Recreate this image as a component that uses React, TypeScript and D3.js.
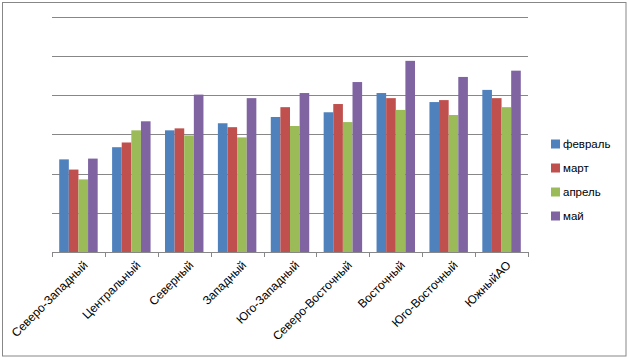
import * as d3 from "d3";
import { useEffect, useRef } from "react";

const categories = [
  "Северо-Западный",
  "Центральный",
  "Северный",
  "Западный",
  "Юго-Западный",
  "Северо-Восточный",
  "Восточный",
  "Юго-Восточный",
  "ЮжныйАО",
];

const seriesNames = ["февраль", "март", "апрель", "май"];
const seriesColors = ["#4F81BD", "#C0504D", "#9BBB59", "#8064A2"];

const february = [23.6, 26.7, 31.0, 32.8, 34.4, 35.6, 40.5, 38.2, 41.3];
const march = [21.0, 27.9, 31.5, 31.8, 36.9, 37.7, 39.2, 38.7, 39.2];
const april = [18.5, 31.0, 29.7, 29.2, 32.1, 33.1, 36.2, 34.9, 36.9];
const may = [23.8, 33.3, 40.1, 39.2, 40.5, 43.3, 48.7, 44.6, 46.2];

const yTicks = [0, 10, 20, 30, 40, 50, 60];

export default function App() {
  const svgRef = useRef<SVGSVGElement | null>(null);

  useEffect(() => {
    if (!svgRef.current) return;
    const width = 629;
    const height = 359;
    const left = 52;
    const right = 528;
    const top = 16.5;
    const bottom = 252;
    const font = "'Liberation Sans', Arial, sans-serif";

    const values = [february, march, april, may];

    const svg = d3.select(svgRef.current);
    svg.selectAll("*").remove();

    svg
      .append("rect")
      .attr("x", 2.5)
      .attr("y", 2.5)
      .attr("width", 623.5)
      .attr("height", 353.5)
      .attr("fill", "#fff")
      .attr("stroke", "#878787")
      .attr("stroke-width", 1);

    const x0 = d3.scaleBand<string>().domain(categories).range([left, right]).padding(0);
    const bw = x0.bandwidth() / 5.5;
    const gap = bw * 1.5;
    const x1 = d3
      .scaleBand<string>()
      .domain(seriesNames)
      .range([gap / 2, x0.bandwidth() - gap / 2])
      .padding(0);
    const y = d3.scaleLinear().domain([0, 60]).range([bottom, top]);

    // grid
    svg
      .append("g")
      .selectAll("line")
      .data(yTicks)
      .enter()
      .append("line")
      .attr("x1", left)
      .attr("x2", right)
      .attr("y1", (d) => Math.round(y(d)) + 0.5)
      .attr("y2", (d) => Math.round(y(d)) + 0.5)
      .attr("stroke", "#878787")
      .attr("stroke-width", 1);

    // bars
    const groups = svg
      .append("g")
      .selectAll("g")
      .data(categories)
      .enter()
      .append("g")
      .attr("transform", (d) => `translate(${x0(d)},0)`);

    groups
      .selectAll("rect")
      .data((_, i) => seriesNames.map((s, j) => ({ s, j, v: values[j][i] })))
      .enter()
      .append("rect")
      .attr("x", (d) => x1(d.s)!)
      .attr("width", x1.bandwidth())
      .attr("y", (d) => y(d.v))
      .attr("height", (d) => bottom - y(d.v))
      .attr("fill", (d) => seriesColors[d.j]);

    // x axis ticks
    const boundaries = categories.map((c) => x0(c)!).concat([right]);
    svg
      .append("g")
      .selectAll("line")
      .data(boundaries)
      .enter()
      .append("line")
      .attr("x1", (d) => Math.round(d) + 0.5)
      .attr("x2", (d) => Math.round(d) + 0.5)
      .attr("y1", bottom)
      .attr("y2", bottom + 5)
      .attr("stroke", "#878787");

    svg
      .append("g")
      .selectAll("text")
      .data(categories)
      .enter()
      .append("text")
      .attr(
        "transform",
        (d) => `translate(${x0(d)! + x0.bandwidth() / 2 + 4},${bottom + 8}) rotate(-45)`
      )
      .attr("text-anchor", "end")
      .attr("dy", "0.7em")
      .attr("font-family", font)
      .attr("font-size", 12)
      .attr("fill", "#000")
      .text((d) => d);

    // legend
    const legend = svg
      .append("g")
      .selectAll("g")
      .data(seriesNames)
      .enter()
      .append("g")
      .attr("transform", (_, i) => `translate(551,${144 + i * 24})`);
    legend
      .append("rect")
      .attr("x", 0)
      .attr("y", -4.5)
      .attr("width", 9)
      .attr("height", 9)
      .attr("fill", (_, i) => seriesColors[i]);
    legend
      .append("text")
      .attr("x", 12)
      .attr("y", 0)
      .attr("dy", "0.35em")
      .attr("font-family", font)
      .attr("font-size", 11.5)
      .attr("fill", "#000")
      .text((d) => d);

    svg.attr("width", width).attr("height", height);
  }, []);

  return (
    <svg
      ref={svgRef}
      width={629}
      height={359}
      style={{ position: "absolute", left: 0, top: 0, display: "block" }}
    />
  );
}
